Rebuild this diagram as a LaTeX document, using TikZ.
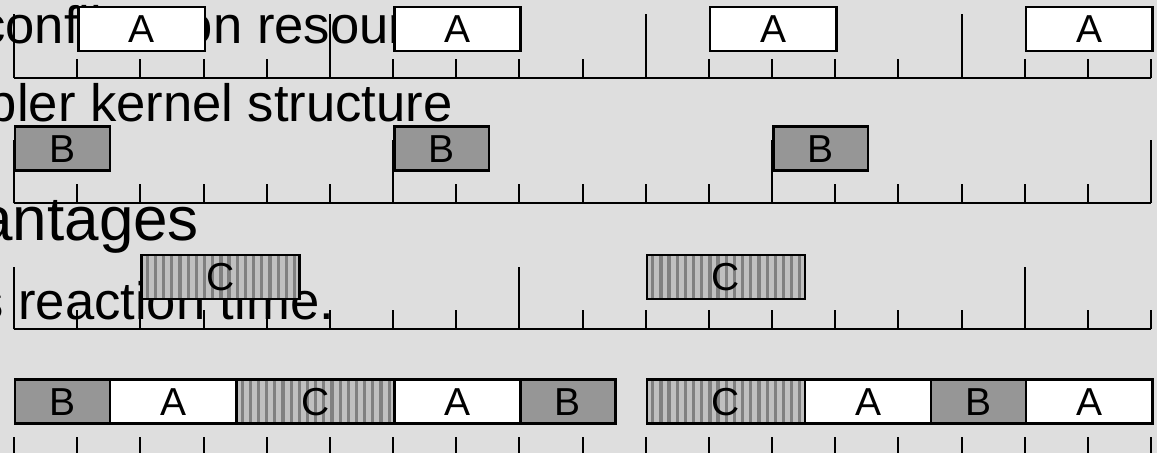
\documentclass[tikz,border=0pt]{standalone}
\usepackage{fontspec}
\setmainfont{Liberation Sans}
\usetikzlibrary{calc}
\definecolor{slidebg}{HTML}{DEDEDE}
\definecolor{taskgray}{HTML}{969696}
\definecolor{hatchlight}{HTML}{C0C0C0}
\definecolor{hatchdark}{HTML}{808080}

\tikzset{
  tickline/.style={line width=1pt},
  slidetext/.style={inner sep=0pt, anchor=base west, font=\fontsize{26.3}{30}\selectfont},
  task/.style={draw=black, line width=1.25pt, inner sep=0pt, anchor=south west,
    minimum height=22pt, minimum width=#1*31.585pt, font=\fontsize{19.5}{21}\selectfont},
  taskA/.style={task=#1, fill=white},
  taskB/.style={task=#1, fill=taskgray},
  taskC/.style={task=#1, fill=hatchlight,
    path picture={\foreach \k in {0,...,18}
      \fill[hatchdark] ([xshift={2.1pt+\k*4.085pt}]path picture bounding box.south west) rectangle ++(1.6pt,25pt);},
    postaction={draw=black, line width=1.25pt}},
}

\begin{document}
\begin{tikzpicture}[x=31.585pt, y=-0.5pt]
  \useasboundingbox (-0.2216,0) rectangle (18.0946,453);
  \fill[slidebg] (-0.2216,0) rectangle (18.0946,453);
  \clip (-0.2216,0) rectangle (18.0946,453);

  % slide text behind the figure
  \node[slidetext] (txt1) at (-0.554,44) {conflicts on resources};
  \node[slidetext] (txt2) at (-0.42,122) {pler kernel structure};
  \node[slidetext, font=\fontsize{31}{36}\selectfont] (txt3) at (-0.570,241) {antages};
  \node[slidetext] (txt4) at (-0.586,320) {s reaction time.};

  % time lines
  \coordinate (ax1s) at (0,77.7);  \coordinate (ax1e) at (18,77.7);
  \coordinate (ax2s) at (0,203.5); \coordinate (ax2e) at (18,203.5);
  \coordinate (ax3s) at (0,329.3); \coordinate (ax3e) at (18,329.3);
  \draw[tickline] (ax1s) -- (ax1e);
  \draw[tickline] (ax2s) -- (ax2e);
  \draw[tickline] (ax3s) -- (ax3e);
  \foreach \t in {0,...,18} {
    \draw[tickline] (\t,77.7) -- ++(0,-19);
    \draw[tickline] (\t,203.5) -- ++(0,-19);
    \draw[tickline] (\t,329.3) -- ++(0,-19);
    \draw[tickline] (\t,456) -- ++(0,-19);
  }
  % periods
  \foreach \t in {0,5,10,15} \draw[tickline] (\t,77.7) -- ++(0,-64);
  \foreach \t in {0,6,12,18} \draw[tickline] (\t,203.5) -- ++(0,-63.5);
  \foreach \t in {0,8,16} \draw[tickline] (\t,329.3) -- ++(0,-62.6);

  % single tasks
  \foreach \t [count=\i] in {1,6,11,16} \node[taskA=2] (a\i) at (\t,52.5) {A};
  \foreach \t [count=\i] in {0,6,12} \node[taskB=1.5] (b\i) at (\t,172) {B};
  \foreach \t [count=\i] in {2,10} \node[taskC=2.5] (c\i) at (\t,300.5) {C};

  % combined schedule
  \foreach \t [count=\i] in {0,8,14.5} \node[taskB=1.5] (sb\i) at (\t,425) {B};
  \foreach \t [count=\i] in {1.5,6,12.5,16} \node[taskA=2] (sa\i) at (\t,425) {A};
  \foreach \t [count=\i] in {3.5,10} \node[taskC=2.5] (sc\i) at (\t,425) {C};
\end{tikzpicture}
\end{document}
